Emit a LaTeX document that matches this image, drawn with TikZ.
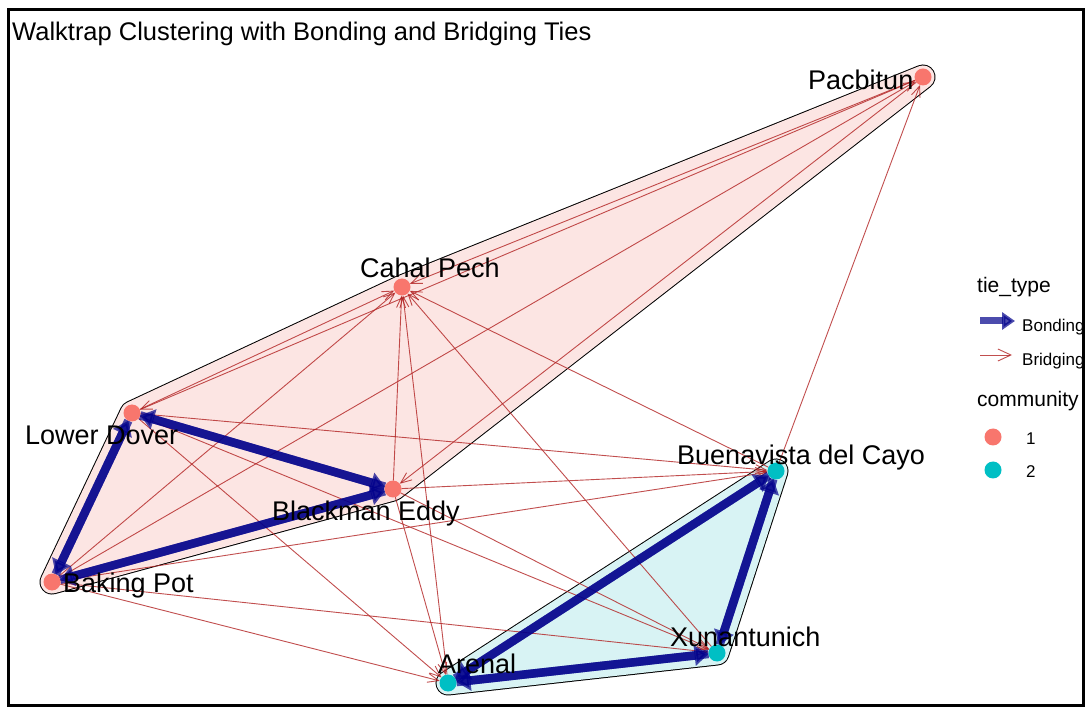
\documentclass[tikz,border=0pt]{standalone}
\usepackage{fontspec}
\setmainfont{Liberation Sans}
\usetikzlibrary{arrows.meta}
\definecolor{commA}{HTML}{F8766D}
\definecolor{commB}{HTML}{00BFC4}
\definecolor{hullA}{RGB}{252,229,227}
\definecolor{hullB}{RGB}{216,243,244}
\definecolor{bondcol}{RGB}{0,0,139}
\definecolor{bridgecol}{RGB}{178,34,34}

\begin{document}
\begin{tikzpicture}[x=1pt,y=-1pt,
  site/.style={circle,minimum size=17pt,inner sep=0pt,outer sep=0pt},
  lbl/.style={anchor=base west,inner sep=0pt,font=\fontsize{27}{30}\selectfont},
  legtitle/.style={anchor=base west,inner sep=0pt,font=\fontsize{21}{24}\selectfont},
  legitem/.style={anchor=base west,inner sep=0pt,font=\fontsize{17}{20}\selectfont},
  bond/.style={line width=8.5pt,draw=bondcol,opacity=0.7,-{Triangle[length=14pt,width=20pt]}},
  bridge/.style={line width=0.9pt,draw=bridgecol,opacity=0.8,-{Straight Barb[length=11pt,width=9pt]}},
  hullout/.style={line width=25pt,line join=round,draw=black,fill=black},
  hullin/.style={line width=23pt,line join=round},
]
\fill[white] (0,0) rectangle (1085,708);
\useasboundingbox (0,0) rectangle (1085,708);

% sites (positions of the graph layout)
\node[site] (Pac) at (923,77) {};
\node[site] (CP)  at (402,287) {};
\node[site] (LD)  at (132,413) {};
\node[site] (BE)  at (393,489) {};
\node[site] (BP)  at (52,582) {};
\node[site] (Ar)  at (448,683) {};
\node[site] (Xu)  at (717,653) {};
\node[site] (Bu)  at (776,471) {};

% community hulls
\draw[hullout] (LD.center) -- (CP.center) -- (Pac.center) -- (BE.center) -- (BP.center) -- cycle;
\draw[hullin,draw=hullA,fill=hullA] (LD.center) -- (CP.center) -- (Pac.center) -- (BE.center) -- (BP.center) -- cycle;
\draw[hullout] (Bu.center) -- (Xu.center) -- (Ar.center) -- cycle;
\draw[hullin,draw=hullB,fill=hullB] (Bu.center) -- (Xu.center) -- (Ar.center) -- cycle;

% bridging ties
\draw[bridge] (Pac) -- (CP);
\draw[bridge] (LD) -- (CP);
\draw[bridge] (BP) -- (CP);
\draw[bridge] (BE) -- (CP);
\draw[bridge] (Ar) -- (CP);
\draw[bridge] (Xu) -- (CP);
\draw[bridge] (Bu) -- (CP);
\draw[bridge] (Pac) -- (LD);
\draw[bridge] (BP) -- (Pac);
\draw[bridge] (Bu) -- (Pac);
\draw[bridge] (Pac) -- (BE);
\draw[bridge] (LD) -- (Bu);
\draw[bridge] (BE) -- (Bu);
\draw[bridge] (BP) -- (Bu);
\draw[bridge] (LD) -- (Ar);
\draw[bridge] (BP) -- (Ar);
\draw[bridge] (BE) -- (Ar);
\draw[bridge] (LD) -- (Xu);
\draw[bridge] (BP) -- (Xu);
\draw[bridge] (BE) -- (Xu);

% bonding ties (reciprocal)
\draw[bond] (LD) -- (BE);
\draw[bond] (BE) -- (LD);
\draw[bond] (LD) -- (BP);
\draw[bond] (BP) -- (LD);
\draw[bond] (BP) -- (BE);
\draw[bond] (BE) -- (BP);
\draw[bond] (Ar) -- (Bu);
\draw[bond] (Bu) -- (Ar);
\draw[bond] (Ar) -- (Xu);
\draw[bond] (Xu) -- (Ar);
\draw[bond] (Xu) -- (Bu);
\draw[bond] (Bu) -- (Xu);

% site markers
\foreach \s in {Pac,CP,LD,BE,BP} \fill[commA] (\s.center) circle[radius=8.5];
\foreach \s in {Ar,Xu,Bu} \fill[commB] (\s.center) circle[radius=8.5];

% site labels
\node[lbl] (tPac) at (808,90)  {Pacbitun};
\node[lbl] (tCP)  at (360,278) {Cahal Pech};
\node[lbl] (tLD)  at (25,445)  {Lower Dover};
\node[lbl] (tBE)  at (272,520) {Blackman Eddy};
\node[lbl] (tBP)  at (63,592)  {Baking Pot};
\node[lbl] (tAr)  at (438,673) {Arenal};
\node[lbl] (tXu)  at (670,646) {Xunantunich};
\node[lbl] (tBu)  at (677,465) {Buenavista del Cayo};

% title
\node[anchor=base west,inner sep=0pt,font=\fontsize{25.5}{28}\selectfont] (title) at (12,40.5)
  {Walktrap Clustering with Bonding and Bridging Ties};

% legend
\node[legtitle] (legTie) at (977,293) {tie\_type};
\coordinate (lb1) at (980,321);
\coordinate (lb2) at (1015,321);
\draw[bond,line width=7pt,-{Triangle[length=13pt,width=17pt]}] (lb1) -- (lb2);
\node[legitem] (legBond) at (1022,332) {Bonding};
\coordinate (lr1) at (980,355);
\coordinate (lr2) at (1012,355);
\draw[bridge,-{Straight Barb[length=13pt,width=12pt]}] (lr1) -- (lr2);
\node[legitem] (legBridge) at (1022,365.5) {Bridging};
\node[legtitle] (legComm) at (977,407) {community};
\node[circle,fill=commA,minimum size=17pt,inner sep=0pt] (legA) at (993,437) {};
\node[legitem] (legAt) at (1026,445) {1};
\node[circle,fill=commB,minimum size=17pt,inner sep=0pt] (legB) at (993,470) {};
\node[legitem] (legBt) at (1026,478) {2};

% frame
\draw[line width=2.5pt] (8.5,9.5) rectangle (1083.5,705.5);
\end{tikzpicture}
\end{document}
